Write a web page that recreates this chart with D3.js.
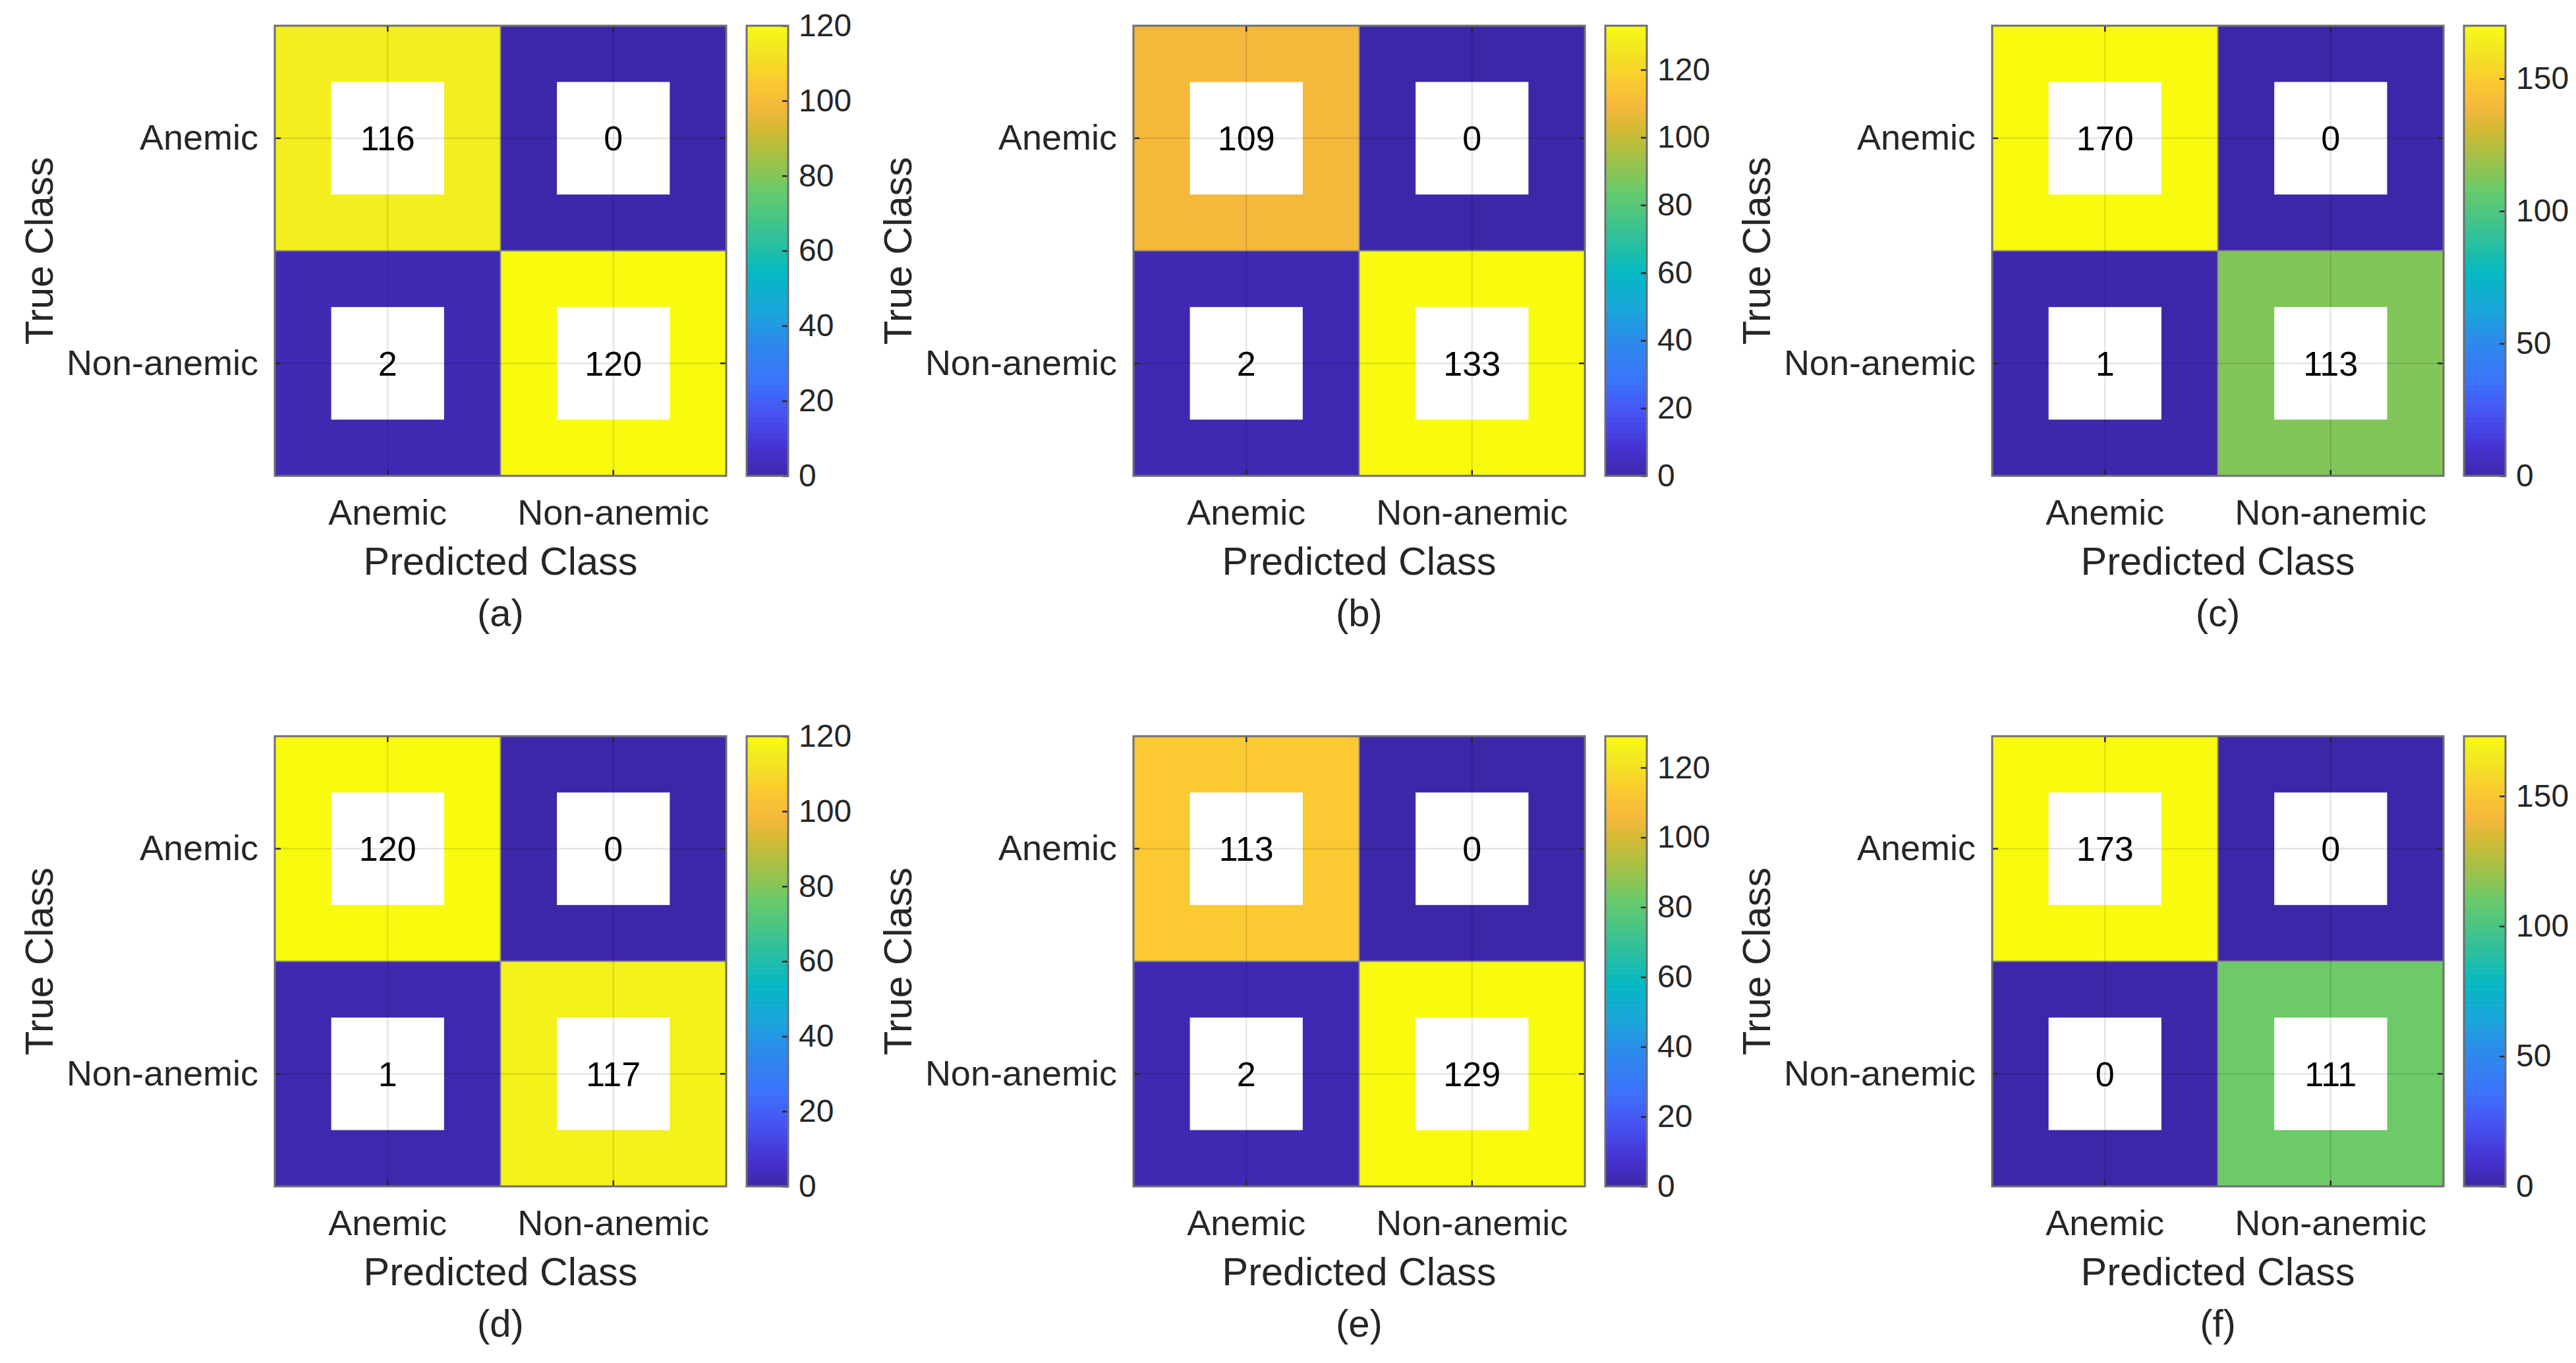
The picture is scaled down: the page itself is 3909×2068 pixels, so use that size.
<!DOCTYPE html>
<html>
<head>
<meta charset="utf-8">
<script src="https://cdn.jsdelivr.net/npm/d3@7"></script>
<style>
  body { margin: 0; background: #fff; }
  text { font-family: "Liberation Sans", Arial, Helvetica, sans-serif; fill: #262626; }
</style>
</head>
<body>
<div id="chart"></div>
<script>
// class names and panel tags
const classNames = ["Anemic", "Non-anemic"];
const panelTags = ["(a)", "(b)", "(c)", "(d)", "(e)", "(f)"];

// confusion matrices, rows = true class, columns = predicted class
const countsA = [[116, 0], [2, 120]];
const countsB = [[109, 0], [2, 133]];
const countsC = [[170, 0], [1, 113]];
const countsD = [[120, 0], [1, 117]];
const countsE = [[113, 0], [2, 129]];
const countsF = [[173, 0], [0, 111]];
const allCounts = [countsA, countsB, countsC, countsD, countsE, countsF];

// colorbar ticks per panel
const cbarTicks = [
  [0, 20, 40, 60, 80, 100, 120],
  [0, 20, 40, 60, 80, 100, 120],
  [0, 50, 100, 150],
  [0, 20, 40, 60, 80, 100, 120],
  [0, 20, 40, 60, 80, 100, 120],
  [0, 50, 100, 150]
];

// parula-like colormap stops
const parulaPos = [0, 0.07, 0.14, 0.21, 0.30, 0.37, 0.45, 0.52, 0.58, 0.64, 0.665, 0.72, 0.77, 0.82, 0.876, 0.93, 0.967, 1];
const parulaHex = ["#3e26a8", "#4535d6", "#4653f2", "#3b72fb", "#2c8aec", "#1aa6da", "#04b8c3", "#2abf9f", "#49c582",
                   "#6cca69", "#82c65a", "#abbf42", "#d2ba33", "#f4b83b", "#fbc931", "#f4e023", "#f4ee1e", "#f9fb0e"];

let svgWidth = 3909;
let svgHeight = 2068;
let panelW = 1303;
let panelH = 1078;
let plot = { left: 417, top: 39, width: 685, height: 683 };
let cbar = { left: 1133, width: 63 };
let tickLen = 9;

let svg = d3.select("#chart")
  .append("svg")
  .attr("width", svgWidth)
  .attr("height", svgHeight);

svg.append("rect")
  .attr("width", svgWidth)
  .attr("height", svgHeight)
  .attr("fill", "#fff");

let parula = d3.scaleLinear()
  .domain(parulaPos)
  .range(parulaHex)
  .interpolate(d3.interpolateRgb)
  .clamp(true);

function styleTicks(sel, size) {
  sel.select(".domain").remove();
  sel.selectAll(".tick line").attr("stroke", "#262626").attr("stroke-width", 2.5);
  sel.selectAll(".tick text").attr("font-size", size).attr("fill", "#262626")
    .attr("font-family", '"Liberation Sans", Arial, sans-serif');
}

allCounts.forEach(function(matrix, i) {
  let col = i % 3, row = Math.floor(i / 3);
  let g = svg.append("g").attr("transform", `translate(${col * panelW}, ${row * panelH})`);

  let cells = [];
  matrix.forEach((r, ti) => r.forEach((v, pi) => cells.push({ t: classNames[ti], p: classNames[pi], v: v })));
  let vmax = d3.max(cells, d => d.v);

  let x = d3.scaleBand().domain(classNames).range([plot.left, plot.left + plot.width]);
  let y = d3.scaleBand().domain(classNames).range([plot.top, plot.top + plot.height]);
  let norm = d3.scaleLinear().domain([0, vmax]).range([0, 1]);
  let bottom = plot.top + plot.height, right = plot.left + plot.width;

  // coloured cells
  g.selectAll("rect.cell").data(cells).enter().append("rect")
    .attr("class", "cell")
    .attr("x", d => x(d.p))
    .attr("y", d => y(d.t))
    .attr("width", x.bandwidth())
    .attr("height", y.bandwidth())
    .attr("fill", d => parula(norm(d.v)));

  // cell borders
  g.append("line").attr("x1", x(classNames[1])).attr("x2", x(classNames[1]))
    .attr("y1", plot.top).attr("y2", bottom).attr("stroke", "#8a8a8a").attr("stroke-width", 2);
  g.append("line").attr("y1", y(classNames[1])).attr("y2", y(classNames[1]))
    .attr("x1", plot.left).attr("x2", right).attr("stroke", "#8a8a8a").attr("stroke-width", 2);

  // white boxes
  g.selectAll("rect.box").data(cells).enter().append("rect")
    .attr("class", "box")
    .attr("x", d => x(d.p) + x.bandwidth() * 0.25)
    .attr("y", d => y(d.t) + y.bandwidth() * 0.25)
    .attr("width", x.bandwidth() * 0.5)
    .attr("height", y.bandwidth() * 0.5)
    .attr("fill", "#fff");

  // grid lines at cell centres
  g.selectAll("line.gx").data(classNames).enter().append("line")
    .attr("x1", d => x(d) + x.bandwidth() / 2).attr("x2", d => x(d) + x.bandwidth() / 2)
    .attr("y1", plot.top).attr("y2", bottom)
    .attr("stroke", "#000").attr("stroke-opacity", 0.1).attr("stroke-width", 2.5);
  g.selectAll("line.gy").data(classNames).enter().append("line")
    .attr("y1", d => y(d) + y.bandwidth() / 2).attr("y2", d => y(d) + y.bandwidth() / 2)
    .attr("x1", plot.left).attr("x2", right)
    .attr("stroke", "#000").attr("stroke-opacity", 0.1).attr("stroke-width", 2.5);

  // counts
  g.selectAll("text.count").data(cells).enter().append("text")
    .attr("class", "count")
    .attr("x", d => x(d.p) + x.bandwidth() / 2)
    .attr("y", d => y(d.t) + y.bandwidth() / 2)
    .attr("dy", "0.36em")
    .attr("text-anchor", "middle")
    .attr("font-size", 52)
    .style("fill", "#000")
    .text(d => d.v);

  // axes, ticks pointing inward on all four sides
  g.append("g").attr("transform", `translate(0, ${bottom})`)
    .call(d3.axisBottom(x).tickSize(-tickLen).tickSizeOuter(0).tickPadding(36))
    .call(s => styleTicks(s, 54));
  g.append("g").attr("transform", `translate(0, ${plot.top})`)
    .call(d3.axisTop(x).tickSize(-tickLen).tickSizeOuter(0).tickFormat(""))
    .call(s => styleTicks(s, 54));
  g.append("g").attr("transform", `translate(${plot.left}, 0)`)
    .call(d3.axisLeft(y).tickSize(-tickLen).tickSizeOuter(0).tickPadding(25))
    .call(s => styleTicks(s, 54));
  g.append("g").attr("transform", `translate(${right}, 0)`)
    .call(d3.axisRight(y).tickSize(-tickLen).tickSizeOuter(0).tickFormat(""))
    .call(s => styleTicks(s, 54));

  g.append("rect")
    .attr("x", plot.left).attr("y", plot.top)
    .attr("width", plot.width).attr("height", plot.height)
    .attr("fill", "none").attr("stroke", "#6e6e6e").attr("stroke-width", 3);

  // colorbar
  let cy = d3.scaleLinear().domain([0, vmax]).range([bottom, plot.top]);
  let nSteps = 256, step = vmax / nSteps;
  g.selectAll("rect.cb").data(d3.range(nSteps)).enter().append("rect")
    .attr("class", "cb")
    .attr("x", cbar.left)
    .attr("width", cbar.width)
    .attr("y", k => cy((k + 1) * step))
    .attr("height", k => cy(k * step) - cy((k + 1) * step) + 0.6)
    .attr("fill", k => parula((k + 0.5) / nSteps));

  g.append("g").attr("transform", `translate(${cbar.left + cbar.width}, 0)`)
    .call(d3.axisRight(cy).tickValues(cbarTicks[i]).tickSize(-tickLen).tickSizeOuter(0).tickPadding(16))
    .call(s => styleTicks(s, 48));

  g.append("rect")
    .attr("x", cbar.left).attr("y", plot.top)
    .attr("width", cbar.width).attr("height", plot.height)
    .attr("fill", "none").attr("stroke", "#6e6e6e").attr("stroke-width", 3);

  // axis titles
  g.append("text")
    .attr("transform", `translate(80, ${plot.top + plot.height / 2}) rotate(-90)`)
    .attr("text-anchor", "middle")
    .attr("font-size", 59.4)
    .text("True Class");

  g.append("text")
    .attr("x", plot.left + plot.width / 2)
    .attr("y", 872)
    .attr("text-anchor", "middle")
    .attr("font-size", 59.4)
    .text("Predicted Class");

  g.append("text")
    .attr("x", plot.left + plot.width / 2)
    .attr("y", 950)
    .attr("text-anchor", "middle")
    .attr("font-size", 58)
    .text(panelTags[i]);
});
</script>
</body>
</html>
